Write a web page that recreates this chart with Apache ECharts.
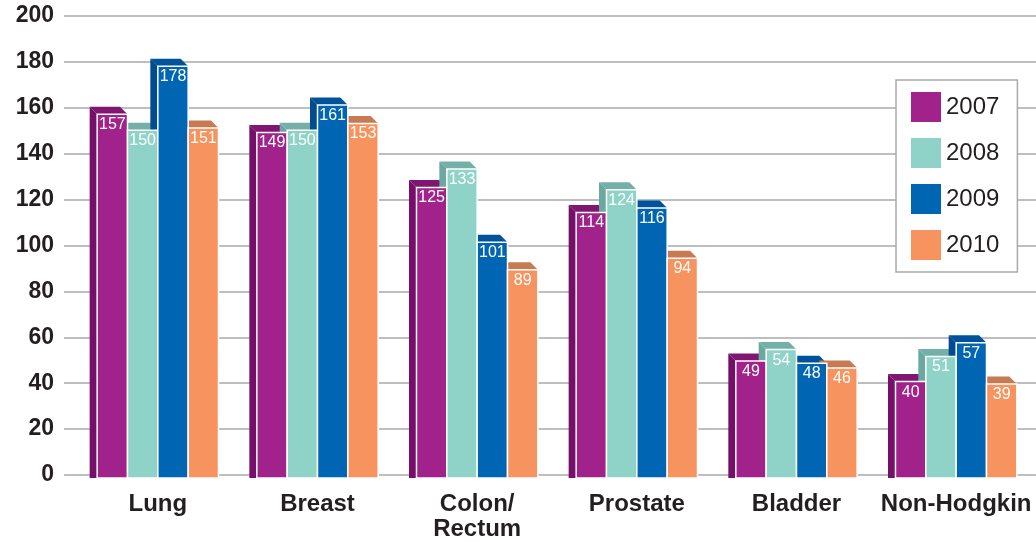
<!DOCTYPE html>
<html>
<head>
<meta charset="utf-8">
<script src="https://cdn.jsdelivr.net/npm/echarts@6/dist/echarts.min.js"></script>
<style>
html,body{margin:0;padding:0;background:#fff;}
#c{width:1036px;height:542px;}
</style>
</head>
<body>
<div id="c"></div>
<script>
const categories = ['Lung', 'Breast', 'Colon/\nRectum', 'Prostate', 'Bladder', 'Non-Hodgkin'];
const years = ['2007', '2008', '2009', '2010'];
const v2007 = [157, 149, 125, 114, 49, 40];
const v2008 = [150, 150, 133, 124, 54, 51];
const v2009 = [178, 161, 101, 116, 48, 57];
const v2010 = [151, 153, 89, 94, 46, 39];
const yMin = 0, yMax = 200, yStep = 20;

const seriesValues = [v2007, v2008, v2009, v2010];
const frontColors = ['#A1228B', '#8FD3C8', '#0066B3', '#F7935E'];
const topColors = ['#7E1672', '#74B0A8', '#00529A', '#C97A52'];
const sideColors = ['#760F6A', '#6CA8A0', '#004C8F', '#C07048'];

const FONT = '"Liberation Sans", Arial, Helvetica, sans-serif';
const chart = echarts.init(document.getElementById('c'));

function makeRender(si) {
  return function (params, api) {
    const idx = api.value(0);
    const val = api.value(1);
    const top = api.coord([idx, val]);
    const base = api.coord([idx, 0]);
    const band = api.size([1, 0])[0];
    const w = band * 0.19;
    const x = top[0] + (si - 2) * w;
    const y = top[1];
    const y0 = base[1] + 5;
    const d = 7.5;
    return {
      type: 'group',
      children: [
        { type: 'polygon', z2: 1,
          shape: { points: [[x - d, y - d], [x + w - d, y - d], [x + w, y], [x, y]] },
          style: { fill: topColors[si] } },
        { type: 'polygon', z2: 1,
          shape: { points: [[x - d, y - d], [x, y], [x, y0], [x - d, y0]] },
          style: { fill: sideColors[si] } },
        { type: 'rect', z2: 10,
          shape: { x: x, y: y, width: w, height: y0 - y },
          style: { fill: frontColors[si], stroke: '#ffffff', lineWidth: 1.5 } },
        { type: 'text', z2: 11,
          x: x + w / 2, y: y + 10.5,
          style: { text: String(val), fill: '#ffffff', font: '16px ' + FONT,
                   align: 'center', verticalAlign: 'middle' } }
      ]
    };
  };
}

const series = years.map(function (yr, si) {
  return {
    name: yr,
    type: 'custom',
    xAxisIndex: 1,
    yAxisIndex: 1,
    itemStyle: { color: frontColors[si] },
    renderItem: makeRender(si),
    encode: { x: 0, y: 1 },
    data: seriesValues[si].map(function (v, i) { return [i, v]; })
  };
});

chart.setOption({
  animation: false,
  backgroundColor: '#ffffff',
  grid: [
    { left: 64, right: 0, top: 16, bottom: 67 },
    { left: 78, right: 0, top: 16, bottom: 67 }
  ],
  xAxis: [
    { gridIndex: 0, type: 'value', show: false, min: 0, max: 1 },
    { gridIndex: 1, type: 'category', data: categories,
      axisLine: { show: false }, axisTick: { show: false },
      axisLabel: { color: '#231f20', fontSize: 24, fontWeight: 'bold', fontFamily: FONT,
                   margin: 19, lineHeight: 25, interval: 0 } }
  ],
  yAxis: [
    { gridIndex: 0, type: 'value', min: yMin, max: yMax, interval: yStep,
      axisLine: { show: false }, axisTick: { show: false },
      axisLabel: { color: '#231f20', fontSize: 23, fontWeight: 'bold', fontFamily: FONT, margin: 10 },
      splitLine: { lineStyle: { color: '#a7a9ac', width: 1.5 } } },
    { gridIndex: 1, type: 'value', min: yMin, max: yMax, interval: yStep, show: false,
      splitLine: { show: false } }
  ],
  legend: {
    orient: 'vertical', left: 896, top: 80,
    data: years.map(function (yr, si) { return { name: yr, icon: 'rect', itemStyle: { color: frontColors[si] } }; }),
    itemWidth: 30, itemHeight: 30, itemGap: 16,
    padding: [12, 18, 12, 15],
    borderColor: '#a7a9ac', borderWidth: 1.5, backgroundColor: '#ffffff',
    selectedMode: false,
    textStyle: { color: '#231f20', fontSize: 24, fontFamily: FONT }
  },
  series: series
});
</script>
</body>
</html>
